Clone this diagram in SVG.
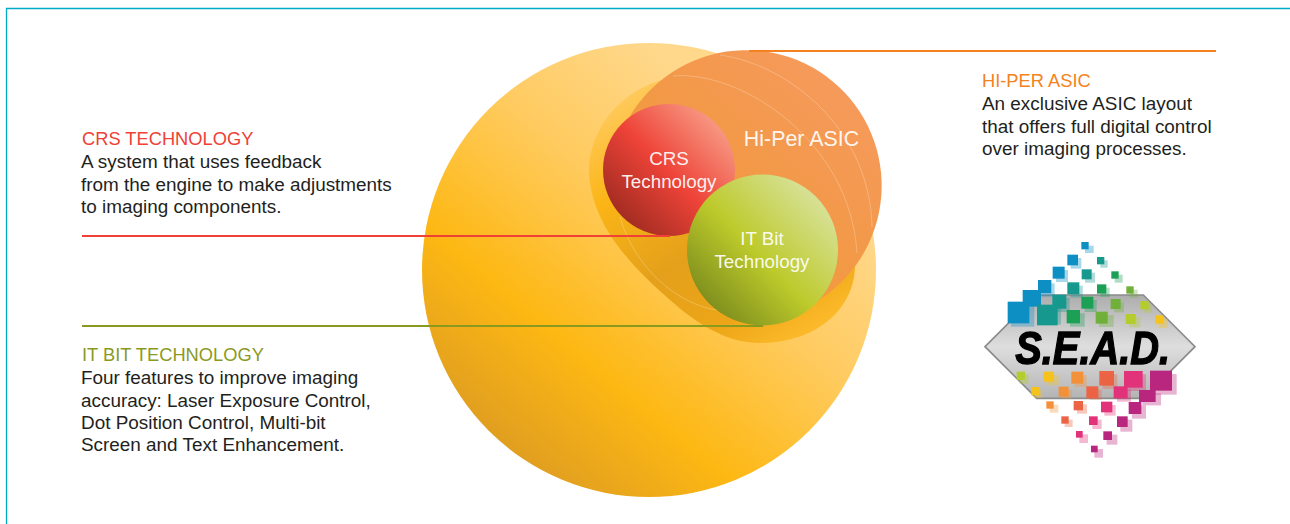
<svg xmlns="http://www.w3.org/2000/svg" width="1290" height="524" viewBox="0 0 1290 524">
<style>
text{font-family:"Liberation Sans",Arial,sans-serif}
.t{font-size:18.9px;fill:#231f20}
.h{font-size:18.3px}
.c{font-size:18.8px;fill:#fff;text-anchor:middle;fill-opacity:.93}
.ln{fill:none;stroke-width:2}
.hair{fill:none;stroke:#fff;stroke-opacity:.3;stroke-width:.8}
.sh{fill-opacity:.35}
</style>
<defs>
<linearGradient id="gBig" x1=".85" y1=".08" x2=".15" y2=".92"><stop offset=".15" stop-color="#ffd88c"/><stop offset=".42" stop-color="#ffcb60"/><stop offset=".72" stop-color="#fdb813"/><stop offset="1" stop-color="#dc9a22"/></linearGradient>
<linearGradient id="gMid" gradientUnits="userSpaceOnUse" x1="640" y1="90" x2="800" y2="350"><stop offset="0" stop-color="#ffc95a"/><stop offset=".25" stop-color="#fbb516"/><stop offset=".55" stop-color="#e4a01b"/><stop offset=".8" stop-color="#eda618"/><stop offset="1" stop-color="#ffbe2e"/></linearGradient>
<linearGradient id="gHi" x1=".9" y1=".1" x2=".2" y2=".9"><stop offset=".05" stop-color="#f69a5c"/><stop offset=".45" stop-color="#f3994a"/><stop offset="1" stop-color="#ef9a33"/></linearGradient>
<linearGradient id="gCrs" x1=".88" y1=".14" x2=".14" y2=".86"><stop offset="0" stop-color="#f79a84"/><stop offset=".52" stop-color="#ee4338"/><stop offset="1" stop-color="#a32c22"/></linearGradient>
<linearGradient id="gIt" x1=".88" y1=".14" x2=".14" y2=".86"><stop offset="0" stop-color="#d8e29b"/><stop offset=".55" stop-color="#bdca2b"/><stop offset="1" stop-color="#7f8f1d"/></linearGradient>
<linearGradient id="gMetal" x1="0" y1="0" x2="0" y2="1"><stop offset="0" stop-color="#adadad"/><stop offset=".5" stop-color="#dedede"/><stop offset="1" stop-color="#b4b4b4"/></linearGradient>
<filter id="soft" x="-5%" y="-5%" width="110%" height="110%"><feGaussianBlur stdDeviation="2.2"/></filter>
</defs>
<rect width="1290" height="524" fill="#fff"/>
<path d="M6.500 524V8.500H1290" fill="none" stroke="#00a9c6" stroke-width="1.3"/>

<g id="big-circle"><circle cx="649" cy="270" r="227" fill="url(#gBig)"/></g>
<g id="middle-shape"><path d="M589 173C589 115 640 76 690 76C780 76 855 165 855 265C855 310 815 343 760 343C725 343 695 322 670 300C630 265 592 225 589 173Z" fill="url(#gMid)"/></g>
<g id="hi-per-asic">
<path d="M625 125A135.500 135.500 0 1 1 800 310L720 250L660 200Z" fill="url(#gHi)"/>
<path class="hair" d="M720 55C790 65 870 130 872 227M673 76C740 70 850 140 857 253M620 217C635 270 680 305 717 310"/>
<text x="801.500" y="146" font-size="21.400" fill="#fff" fill-opacity=".93" text-anchor="middle">Hi-Per ASIC</text>
</g>
<g id="crs-technology">
<circle cx="669" cy="170" r="66" fill="url(#gCrs)"/>
<text class="c" x="669" y="164.700">CRS</text>
<text class="c" x="669" y="187.700">Technology</text>
</g>
<g id="it-bit-technology">
<circle cx="762.500" cy="250" r="75.500" fill="url(#gIt)"/>
<text class="c" x="762" y="244.700">IT Bit</text>
<text class="c" x="762" y="267.700">Technology</text>
</g>

<g id="connectors">
<path class="ln" stroke="#ef4136" d="M82 236H670"/>
<path class="ln" stroke="#8a9a1f" d="M82 326H763"/>
<path class="ln" stroke="#f58220" d="M749 51H1216"/>
</g>

<g id="label-crs">
<text class="t h" x="82" y="144.700" style="fill:#ef4136">CRS TECHNOLOGY</text>
<text class="t" x="81" y="167.700">A system that uses feedback</text>
<text class="t" x="81" y="190.700">from the engine to make adjustments</text>
<text class="t" x="81" y="212.700">to imaging components.</text>
</g>
<g id="label-it">
<text class="t h" x="82" y="360.700" style="fill:#8a9a1f">IT BIT TECHNOLOGY</text>
<text class="t" x="81" y="383.700">Four features to improve imaging</text>
<text class="t" x="81" y="406.700">accuracy: Laser Exposure Control,</text>
<text class="t" x="81" y="428.700">Dot Position Control, Multi-bit</text>
<text class="t" x="81" y="450.700">Screen and Text Enhancement.</text>
</g>
<g id="label-hiper">
<text class="t h" x="982" y="86.700" style="fill:#f58220">HI-PER ASIC</text>
<text class="t" x="982" y="109.700">An exclusive ASIC layout</text>
<text class="t" x="982" y="132.700">that offers full digital control</text>
<text class="t" x="982" y="154.700">over imaging processes.</text>
</g>

<g id="sead-logo" transform="translate(960 230) scale(.33333)" filter="url(#soft)">
<path d="M75 350 230 195H550L705 350 550 505H230Z" fill="url(#gMetal)" stroke="#8b8b8b" stroke-width="5"/>
<g fill="#0f8fc4">
<rect x="364" y="36" width="22" height="22"/><rect x="322" y="74" width="32" height="32"/><rect x="278" y="110" width="36" height="36"/><rect x="234" y="150" width="40" height="40"/><rect x="188" y="180" width="55" height="50"/><rect x="143" y="215" width="65" height="65"/>
</g>
<g fill="#0f8fc4" class="sh">
<rect x="375" y="47" width="26" height="22"/><rect x="332" y="84" width="32" height="32"/><rect x="288" y="120" width="36" height="36"/><rect x="244" y="160" width="40" height="40"/><rect x="153" y="225" width="70" height="65"/>
</g>
<g fill="#16998f">
<rect x="411" y="81" width="22" height="22"/><rect x="365" y="118" width="30" height="30"/><rect x="322" y="157" width="36" height="36"/><rect x="277" y="194" width="42" height="42"/><rect x="231" y="224" width="62" height="62"/>
</g>
<g fill="#16998f" class="sh">
<rect x="421" y="91" width="22" height="22"/><rect x="375" y="128" width="30" height="30"/><rect x="332" y="167" width="36" height="36"/><rect x="287" y="204" width="42" height="42"/><rect x="241" y="234" width="62" height="50"/>
</g>
<g fill="#1fa055">
<rect x="454" y="124" width="22" height="22"/><rect x="411" y="163" width="28" height="28"/><rect x="364" y="200" width="36" height="36"/><rect x="320" y="240" width="40" height="40"/>
</g>
<g fill="#1fa055" class="sh">
<rect x="464" y="134" width="24" height="24"/><rect x="421" y="173" width="28" height="28"/><rect x="374" y="210" width="36" height="36"/><rect x="330" y="250" width="44" height="40"/>
</g>
<g fill="#6fb03a">
<rect x="499" y="169" width="22" height="22"/><rect x="452" y="207" width="30" height="30"/><rect x="407" y="245" width="36" height="36"/>
</g>
<g fill="#6fb03a" class="sh">
<rect x="509" y="179" width="24" height="24"/><rect x="462" y="217" width="30" height="30"/><rect x="417" y="255" width="44" height="36"/>
</g>
<g fill="#b5cc2e">
<rect x="541" y="213" width="25" height="25"/><rect x="497" y="252" width="30" height="30"/>
</g>
<g fill="#b5cc2e" class="sh"><rect x="551" y="223" width="25" height="25"/><rect x="507" y="262" width="34" height="30"/></g>
<rect x="585" y="256" width="25" height="25" fill="#f6c21c"/>
<rect x="595" y="266" width="28" height="28" fill="#f6c21c" fill-opacity=".35"/>

<rect x="170" y="425" width="25" height="25" fill="#b5cc2e"/>
<rect x="178" y="433" width="28" height="28" fill="#b5cc2e" fill-opacity=".35"/>
<rect x="250" y="425" width="32" height="30" fill="#f6c21c"/><rect x="260" y="435" width="36" height="30" fill="#f6c21c" fill-opacity=".35"/>
<rect x="334" y="425" width="36" height="36" fill="#f3913a"/><rect x="344" y="435" width="36" height="36" fill="#f3913a" fill-opacity=".35"/>
<rect x="418" y="423" width="44" height="44" fill="#ec6345"/><rect x="428" y="433" width="44" height="44" fill="#ec6345" fill-opacity=".35"/>
<rect x="492" y="423" width="56" height="50" fill="#e2327a"/><rect x="502" y="433" width="56" height="50" fill="#e2327a" fill-opacity=".35"/>
<rect x="570" y="422" width="66" height="60" fill="#b9287f"/><rect x="580" y="432" width="70" height="62" fill="#b9287f" fill-opacity=".35"/>

<rect x="214" y="471" width="25" height="25" fill="#f6c21c"/><rect x="222" y="479" width="25" height="25" fill="#f6c21c" fill-opacity=".35"/>
<rect x="296" y="470" width="30" height="30" fill="#f3913a"/><rect x="306" y="480" width="30" height="26" fill="#f3913a" fill-opacity=".35"/>
<rect x="379" y="469" width="36" height="36" fill="#ec6345"/><rect x="389" y="479" width="36" height="30" fill="#ec6345" fill-opacity=".35"/>
<rect x="461" y="469" width="42" height="36" fill="#e2327a"/><rect x="471" y="479" width="42" height="36" fill="#e2327a" fill-opacity=".35"/>
<rect x="537" y="480" width="50" height="36" fill="#b9287f"/><rect x="547" y="490" width="56" height="36" fill="#b9287f" fill-opacity=".35"/>

<rect x="259" y="514" width="22" height="22" fill="#f3913a"/><rect x="269" y="524" width="26" height="24" fill="#f3913a" fill-opacity=".35"/>
<rect x="341" y="513" width="28" height="28" fill="#ec6345"/><rect x="351" y="523" width="30" height="28" fill="#ec6345" fill-opacity=".35"/>
<rect x="423" y="515" width="34" height="32" fill="#e2327a"/><rect x="433" y="525" width="34" height="32" fill="#e2327a" fill-opacity=".35"/>
<rect x="506" y="516" width="38" height="36" fill="#b9287f"/><rect x="516" y="526" width="42" height="40" fill="#b9287f" fill-opacity=".35"/>

<rect x="304" y="559" width="22" height="22" fill="#ec6345"/><rect x="314" y="569" width="24" height="22" fill="#ec6345" fill-opacity=".35"/>
<rect x="387" y="559" width="26" height="26" fill="#e2327a"/><rect x="397" y="569" width="28" height="28" fill="#e2327a" fill-opacity=".35"/>
<rect x="471" y="559" width="32" height="32" fill="#b9287f"/><rect x="481" y="569" width="36" height="36" fill="#b9287f" fill-opacity=".35"/>

<rect x="348" y="603" width="20" height="20" fill="#e2327a"/><rect x="358" y="613" width="26" height="26" fill="#e2327a" fill-opacity=".35"/>
<rect x="430" y="604" width="26" height="26" fill="#b9287f"/><rect x="440" y="614" width="32" height="30" fill="#b9287f" fill-opacity=".35"/>
<rect x="393" y="647" width="20" height="20" fill="#b9287f"/><rect x="403" y="657" width="26" height="26" fill="#b9287f" fill-opacity=".35"/>

<text x="398" y="403" font-size="140" font-weight="bold" font-style="italic" fill="#000" stroke="#000" stroke-width="4" text-anchor="middle" textLength="465" lengthAdjust="spacingAndGlyphs">S.E.A.D.</text>
</g>
</svg>
